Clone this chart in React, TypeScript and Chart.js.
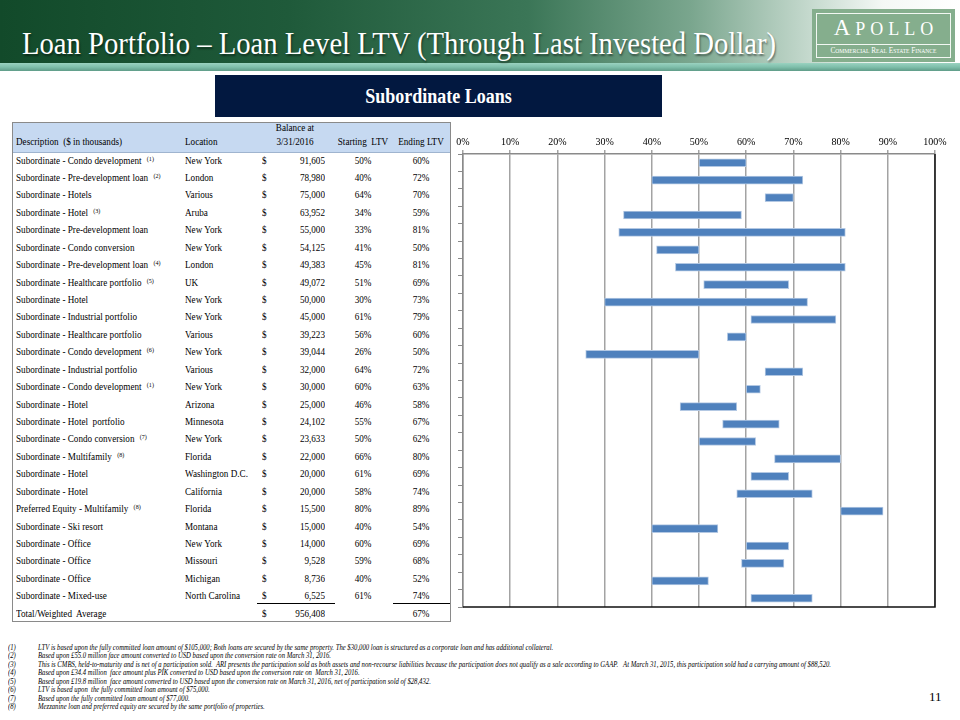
import React, { useEffect, useRef } from "react";
import { Chart, registerables } from "chart.js";

Chart.register(...registerables);

const descriptions = [
  "Subordinate - Condo development",
  "Subordinate - Pre-development loan",
  "Subordinate - Hotels",
  "Subordinate - Hotel",
  "Subordinate - Pre-development loan",
  "Subordinate - Condo conversion",
  "Subordinate - Pre-development loan",
  "Subordinate - Healthcare portfolio",
  "Subordinate - Hotel",
  "Subordinate - Industrial portfolio",
  "Subordinate - Healthcare portfolio",
  "Subordinate - Condo development",
  "Subordinate - Industrial portfolio",
  "Subordinate - Condo development",
  "Subordinate - Hotel",
  "Subordinate - Hotel  portfolio",
  "Subordinate - Condo conversion",
  "Subordinate - Multifamily",
  "Subordinate - Hotel",
  "Subordinate - Hotel",
  "Preferred Equity - Multifamily",
  "Subordinate - Ski resort",
  "Subordinate - Office",
  "Subordinate - Office",
  "Subordinate - Office",
  "Subordinate - Mixed-use",
];
const noteRefs = ["(1)", "(2)", "", "(3)", "", "", "(4)", "(5)", "", "", "", "(6)", "", "(1)", "", "", "(7)", "(8)", "", "", "(8)", "", "", "", "", ""];
const locations = [
  "New York", "London", "Various", "Aruba", "New York", "New York", "London", "UK", "New York", "New York",
  "Various", "New York", "Various", "New York", "Arizona", "Minnesota", "New York", "Florida", "Washington D.C.",
  "California", "Florida", "Montana", "New York", "Missouri", "Michigan", "North Carolina",
];
const balances = [91605, 78980, 75000, 63952, 55000, 54125, 49383, 49072, 50000, 45000, 39223, 39044, 32000, 30000, 25000, 24102, 23633, 22000, 20000, 20000, 15500, 15000, 14000, 9528, 8736, 6525];
const startingLTV = [50, 40, 64, 34, 33, 41, 45, 51, 30, 61, 56, 26, 64, 60, 46, 55, 50, 66, 61, 58, 80, 40, 60, 59, 40, 61];
const endingLTV = [60, 72, 70, 59, 81, 50, 81, 69, 73, 79, 60, 50, 72, 63, 58, 67, 62, 80, 69, 74, 89, 54, 69, 68, 52, 74];
const totalBalance = 956408;
const weightedEndingLTV = 67;
const footnotes = [
  "LTV is based upon the fully committed loan amount of $105,000; Both loans are secured by the same property. The $30,000 loan is structured as a corporate loan and has additional collateral.",
  "Based upon £55.0 million face amount converted to USD based upon the conversion rate on March 31, 2016.",
  "This is CMBS, held-to-maturity and is net of a participation sold.  ARI presents the participation sold as both assets and non-recourse liabilities because the participation does not qualify as a sale according to GAAP.   At March 31, 2015, this participation sold had a carrying amount of $88,520.",
  "Based upon £34.4 million  face amount plus PIK converted to USD based upon the conversion rate on  March 31, 2016.",
  "Based upon £19.8 million  face amount converted to USD based upon the conversion rate on March 31, 2016, net of participation sold of $28,432.",
  "LTV is based upon  the fully committed loan amount of $75,000.",
  "Based upon the fully committed loan amount of $77,000.",
  "Mezzanine loan and preferred equity are secured by the same portfolio of properties.",
];

const SERIF = '"Liberation Serif", "Times New Roman", serif';
const fmt = (n: number) => n.toLocaleString("en-US");

const ROW_TOP = 151.5;
const ROW_H = 17.43;
const SQUEEZE = 0.87;

const frame = {
  id: "frame",
  afterDatasetsDraw(chart: any) {
    const { ctx, chartArea: a } = chart;
    ctx.save();
    ctx.lineWidth = 1.5;
    ctx.strokeStyle = "#111";
    ctx.beginPath();
    ctx.moveTo(a.right, a.top);
    ctx.lineTo(a.right, a.bottom);
    ctx.lineTo(a.left, a.bottom);
    ctx.stroke();
    ctx.restore();
  },
};

function LtvChart() {
  const ref = useRef<HTMLCanvasElement>(null);
  useEffect(() => {
    const chart = new Chart(ref.current!, {
      type: "bar",
      data: {
        labels: descriptions.map((d, i) => d + " " + locations[i]),
        datasets: [
          {
            data: startingLTV.map((s, i) => [s, endingLTV[i]]) as any,
            backgroundColor: "#4f81bd",
            borderColor: "#b3c8e3",
            borderWidth: 1,
            borderSkipped: false,
            barThickness: 8,
          },
        ],
      },
      options: {
        indexAxis: "y",
        responsive: false,
        animation: false,
        devicePixelRatio: 1,
        layout: { padding: { left: 0, right: 25, top: 0, bottom: 13 } },
        plugins: { legend: { display: false }, tooltip: { enabled: false } },
        scales: {
          x: {
            position: "top",
            min: 0,
            max: 100,
            ticks: {
              stepSize: 10,
              callback: (v: any) => v + "%",
              color: "#000",
              font: { family: SERIF, size: 10 },
              padding: 2,
              maxRotation: 0,
            },
            grid: { color: "#a3a3a3", lineWidth: 1.5, tickLength: 4 },
            border: { color: "#8a8a8a", width: 1.5 },
            afterFit: (s: any) => {
              s.height = 34;
            },
          },
          y: {
            ticks: { display: false },
            grid: { offset: true, drawOnChartArea: false, tickLength: 5, color: "#8a8a8a", lineWidth: 1 },
            border: { color: "#8a8a8a", width: 1.5 },
            afterFit: (s: any) => {
              s.width = 23;
            },
          },
        },
      },
      plugins: [frame],
    } as any);
    return () => chart.destroy();
  }, []);
  return <canvas ref={ref} width={520} height={500} style={{ position: "absolute", left: 440, top: 120, width: 520, height: 500 }} />;
}

const cell = (extra: React.CSSProperties): React.CSSProperties => {
  const align = (extra.textAlign as string) || "left";
  return {
    position: "absolute",
    whiteSpace: "pre",
    fontFamily: SERIF,
    fontSize: 10.5,
    color: "#000",
    transform: `scaleX(${SQUEEZE})`,
    transformOrigin: align === "right" ? "right center" : align === "center" ? "center center" : "left center",
    ...extra,
  };
};

function Table() {
  const rows = descriptions.map((d, i) => {
    const top = ROW_TOP + i * ROW_H;
    const base = { top, height: ROW_H, lineHeight: ROW_H + "px" };
    return (
      <React.Fragment key={i}>
        <div style={cell({ ...base, left: 16 })}>
          {d}
          {noteRefs[i] && (
            <span style={{ fontSize: 7, position: "relative", top: -3, marginLeft: 6 }}>{noteRefs[i]}</span>
          )}
        </div>
        <div style={cell({ ...base, left: 185 })}>{locations[i]}</div>
        <div style={cell({ ...base, left: 262 })}>$</div>
        <div style={cell({ ...base, left: 225, width: 100, textAlign: "right" })}>{fmt(balances[i])}</div>
        <div style={cell({ ...base, left: 333, width: 60, textAlign: "center" })}>{startingLTV[i]}%</div>
        <div style={cell({ ...base, left: 392, width: 58, textAlign: "center" })}>{endingLTV[i]}%</div>
      </React.Fragment>
    );
  });
  const totTop = ROW_TOP + descriptions.length * ROW_H;
  const tb = { top: totTop, height: ROW_H, lineHeight: ROW_H + "px" };
  return (
    <>
      <div style={{ position: "absolute", left: 13, top: 122.5, width: 437, height: 29, background: "#c6d9f1", borderBottom: "1px solid #9fb4cf" }} />
      <div style={{ position: "absolute", left: 12, top: 122, width: 437, height: 498, border: "1.5px solid #8a8a8a" }} />
      <div style={cell({ left: 16, top: 135, lineHeight: "14px" })}>Description  ($ in thousands)</div>
      <div style={cell({ left: 185, top: 135, lineHeight: "14px" })}>Location</div>
      <div style={cell({ left: 255, top: 120.5, width: 80, textAlign: "center", lineHeight: "14px" })}>Balance at</div>
      <div style={cell({ left: 255, top: 135, width: 80, textAlign: "center", lineHeight: "14px" })}>3/31/2016</div>
      <div style={cell({ left: 333, top: 135, width: 60, textAlign: "center", lineHeight: "14px" })}>Starting  LTV</div>
      <div style={cell({ left: 392, top: 135, width: 58, textAlign: "center", lineHeight: "14px" })}>Ending LTV</div>
      {rows}
      <div style={{ position: "absolute", left: 257, top: 603, width: 78, height: 1, background: "#000" }} />
      <div style={{ position: "absolute", left: 393, top: 603, width: 57, height: 1, background: "#000" }} />
      <div style={cell({ ...tb, left: 16 })}>Total/Weighted  Average</div>
      <div style={cell({ ...tb, left: 262 })}>$</div>
      <div style={cell({ ...tb, left: 225, width: 100, textAlign: "right" })}>{fmt(totalBalance)}</div>
      <div style={cell({ ...tb, left: 392, width: 58, textAlign: "center" })}>{weightedEndingLTV}%</div>
    </>
  );
}

function Header() {
  return (
    <>
      <div
        style={{
          position: "absolute",
          left: 0,
          top: 0,
          width: 960,
          height: 64,
          background: "linear-gradient(90deg, #124a2a 0%, #1f5a3a 30%, #3b7657 55%, #7aa68e 72%, #c9dcd1 85%, #f4f8f5 92%, #ffffff 100%)",
        }}
      />
      <div
        style={{
          position: "absolute",
          left: 0,
          top: 63,
          width: 960,
          height: 8,
          background: "linear-gradient(180deg, #9ad2c0 0%, #7fbfab 50%, #5f9c88 100%)",
        }}
      />
      <div
        style={{
          position: "absolute",
          left: 22,
          top: 27,
          whiteSpace: "pre",
          fontFamily: SERIF,
          fontSize: 31,
          lineHeight: "34px",
          color: "#fff",
          textShadow: "1px 2px 2px rgba(0,0,0,0.45)",
          transform: "scaleX(0.925)",
          transformOrigin: "left center",
        }}
      >
        Loan Portfolio – Loan Level LTV (Through Last Invested Dollar)
      </div>
      <div style={{ position: "absolute", left: 812, top: 9, width: 143, height: 53, background: "#85ae8d" }} />
      <div style={{ position: "absolute", left: 816, top: 13, width: 133, height: 43, border: "1px solid #f2f7f2" }} />
      <div
        style={{
          position: "absolute",
          left: 812,
          top: 15,
          width: 143,
          textAlign: "center",
          fontFamily: SERIF,
          fontSize: 23,
          letterSpacing: 5,
          color: "#fff",
          lineHeight: "26px",
          paddingLeft: 5,
          boxSizing: "border-box",
        }}
      >
        A<span style={{ fontSize: 18 }}>POLLO</span>
      </div>
      <div style={{ position: "absolute", left: 817, top: 44, width: 133, height: 1, background: "#f2f7f2" }} />
      <div
        style={{
          position: "absolute",
          left: 812,
          top: 46,
          width: 143,
          textAlign: "center",
          fontFamily: SERIF,
          fontSize: 7.2,
          color: "#fff",
          lineHeight: "10px",
          whiteSpace: "pre",
        }}
      >
        C<span style={{ fontSize: 5.6 }}>OMMERCIAL</span> R<span style={{ fontSize: 5.6 }}>EAL</span> E<span style={{ fontSize: 5.6 }}>STATE</span> F<span style={{ fontSize: 5.6 }}>INANCE</span>
      </div>
      <div
        style={{
          position: "absolute",
          left: 215,
          top: 75,
          width: 447,
          height: 42,
          background: "#021840",
        }}
      />
      <div
        style={{
          position: "absolute",
          left: 215,
          top: 75,
          width: 447,
          height: 42,
          color: "#fff",
          fontFamily: SERIF,
          fontWeight: "bold",
          fontSize: 20,
          lineHeight: "42px",
          textAlign: "center",
          transform: "scaleX(0.9)",
          transformOrigin: "center center",
        }}
      >
        Subordinate Loans
      </div>
    </>
  );
}

function Footnotes() {
  const fn = (extra: React.CSSProperties): React.CSSProperties => ({
    position: "absolute",
    whiteSpace: "pre",
    fontFamily: SERIF,
    fontSize: 7.3,
    fontStyle: "italic",
    lineHeight: "8px",
    color: "#000",
    transform: "scaleX(0.917)",
    transformOrigin: "left center",
    ...extra,
  });
  return (
    <>
      {footnotes.map((f, i) => (
        <React.Fragment key={i}>
          <div style={fn({ left: 8, top: 644 + i * 8.43 })}>({i + 1})</div>
          <div style={fn({ left: 38, top: 644 + i * 8.43 })}>{f}</div>
        </React.Fragment>
      ))}
      <div style={cell({ left: 929, top: 689, fontSize: 13, lineHeight: "16px", transform: "none" })}>11</div>
    </>
  );
}

export default function App() {
  return (
    <div style={{ position: "absolute", left: 0, top: 0, width: 960, height: 720, background: "#fff", overflow: "hidden" }}>
      <Header />
      <Table />
      <LtvChart />
      <Footnotes />
    </div>
  );
}
